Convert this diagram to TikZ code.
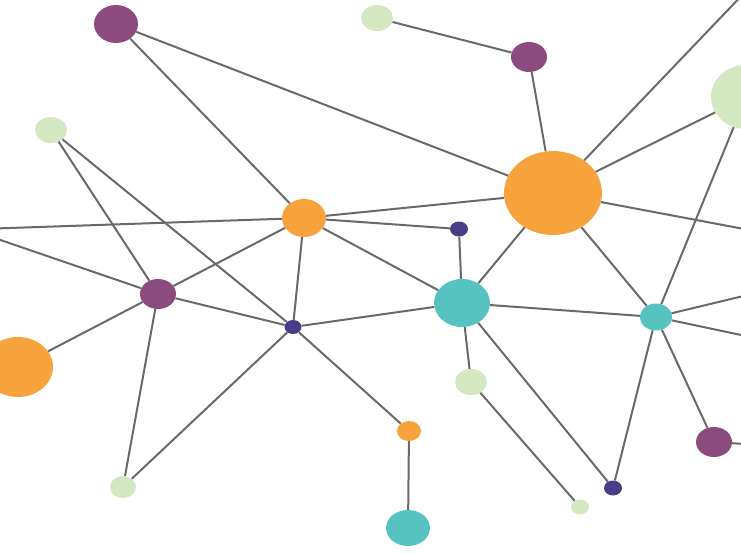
\documentclass[tikz,border=0pt]{standalone}
\usetikzlibrary{shapes.geometric}

\definecolor{netpurple}{HTML}{8C4B7F}
\definecolor{netgreen}{HTML}{D3E7C1}
\definecolor{netorange}{HTML}{F7A33D}
\definecolor{netteal}{HTML}{57C3C0}
\definecolor{netblue}{HTML}{483D87}
\definecolor{netgray}{HTML}{696969}

\begin{document}
\begin{tikzpicture}[x=1pt,y=-1pt]
\tikzset{
  netnode/.style={ellipse,draw=none,inner sep=0pt},
  purplenode/.style={netnode,fill=netpurple},
  greennode/.style={netnode,fill=netgreen},
  orangenode/.style={netnode,fill=netorange},
  tealnode/.style={netnode,fill=netteal},
  bluenode/.style={netnode,fill=netblue},
  netedge/.style={draw=netgray,line width=2pt}
}
\useasboundingbox (0,0) rectangle (741,552);
\clip (0,0) rectangle (741,552);
\node[purplenode,minimum width=44pt,minimum height=38pt] (n_p1) at (116,24) {};
\node[greennode,minimum width=32pt,minimum height=26pt] (n_g1) at (377,18) {};
\node[purplenode,minimum width=36pt,minimum height=30pt] (n_p2) at (529,57) {};
\node[greennode,minimum width=70pt,minimum height=64pt] (n_g2) at (746,97) {};
\node[greennode,minimum width=32pt,minimum height=26pt] (n_g3) at (51,130) {};
\node[orangenode,minimum width=44pt,minimum height=38pt] (n_o1) at (304,218) {};
\node[orangenode,minimum width=98pt,minimum height=84pt] (n_o2) at (553,193) {};
\node[bluenode,minimum width=18pt,minimum height=15pt] (n_b1) at (459,229) {};
\node[purplenode,minimum width=36pt,minimum height=30pt] (n_p3) at (158,294) {};
\node[tealnode,minimum width=56pt,minimum height=48pt] (n_t1) at (462,303) {};
\node[tealnode,minimum width=32pt,minimum height=27pt] (n_t2) at (656,317) {};
\node[bluenode,minimum width=17pt,minimum height=14pt] (n_b2) at (293,327) {};
\node[orangenode,minimum width=70pt,minimum height=60pt] (n_o3) at (18,367) {};
\node[greennode,minimum width=32pt,minimum height=26pt] (n_g4) at (471,382) {};
\node[orangenode,minimum width=24pt,minimum height=20pt] (n_o4) at (409,431) {};
\node[purplenode,minimum width=36pt,minimum height=30pt] (n_p4) at (714,442) {};
\node[bluenode,minimum width=18pt,minimum height=15pt] (n_b3) at (613,488) {};
\node[greennode,minimum width=26pt,minimum height=22pt] (n_g5) at (123,487) {};
\node[greennode,minimum width=18pt,minimum height=15pt] (n_g6) at (580,507) {};
\node[tealnode,minimum width=44pt,minimum height=36pt] (n_t3) at (408,528) {};
% loose ends outside the frame
\coordinate (c_ne) at (747,-10);
\coordinate (c_e1) at (760,232);
\coordinate (c_e2) at (760,292);
\coordinate (c_e3) at (760,339);
\coordinate (c_e4) at (760,445);
\coordinate (c_w1) at (-20,229);
\coordinate (c_w2) at (-20,233);
\draw[netedge] (n_p1) -- (n_o2);
\draw[netedge] (n_p1) -- (n_o1);
\draw[netedge] (n_g1) -- (n_p2);
\draw[netedge] (n_p2) -- (n_o2);
\draw[netedge] (n_o2) -- (c_ne);
\draw[netedge] (n_o2) -- (n_g2);
\draw[netedge] (n_g2) -- (n_t2);
\draw[netedge] (n_o2) -- (c_e1);
\draw[netedge] (n_o2) -- (n_t1);
\draw[netedge] (n_o2) -- (n_t2);
\draw[netedge] (c_w1) -- (n_o1);
\draw[netedge] (n_o1) -- (n_o2);
\draw[netedge] (n_o1) -- (n_b1);
\draw[netedge] (n_o1) -- (n_t1);
\draw[netedge] (n_o1) -- (n_p3);
\draw[netedge] (n_o1) -- (n_b2);
\draw[netedge] (n_g3) -- (n_p3);
\draw[netedge] (n_g3) -- (n_b2);
\draw[netedge] (c_w2) -- (n_p3);
\draw[netedge] (n_p3) -- (n_b2);
\draw[netedge] (n_p3) -- (n_o3);
\draw[netedge] (n_p3) -- (n_g5);
\draw[netedge] (n_b2) -- (n_t1);
\draw[netedge] (n_b2) -- (n_g5);
\draw[netedge] (n_b2) -- (n_o4);
\draw[netedge] (n_b1) -- (n_t1);
\draw[netedge] (n_t1) -- (n_t2);
\draw[netedge] (n_t1) -- (n_g4);
\draw[netedge] (n_t1) -- (n_b3);
\draw[netedge] (n_g4) -- (n_g6);
\draw[netedge] (n_o4) -- (n_t3);
\draw[netedge] (n_t2) -- (n_b3);
\draw[netedge] (n_t2) -- (n_p4);
\draw[netedge] (n_t2) -- (c_e2);
\draw[netedge] (n_t2) -- (c_e3);
\draw[netedge] (n_p4) -- (c_e4);
\end{tikzpicture}
\end{document}
